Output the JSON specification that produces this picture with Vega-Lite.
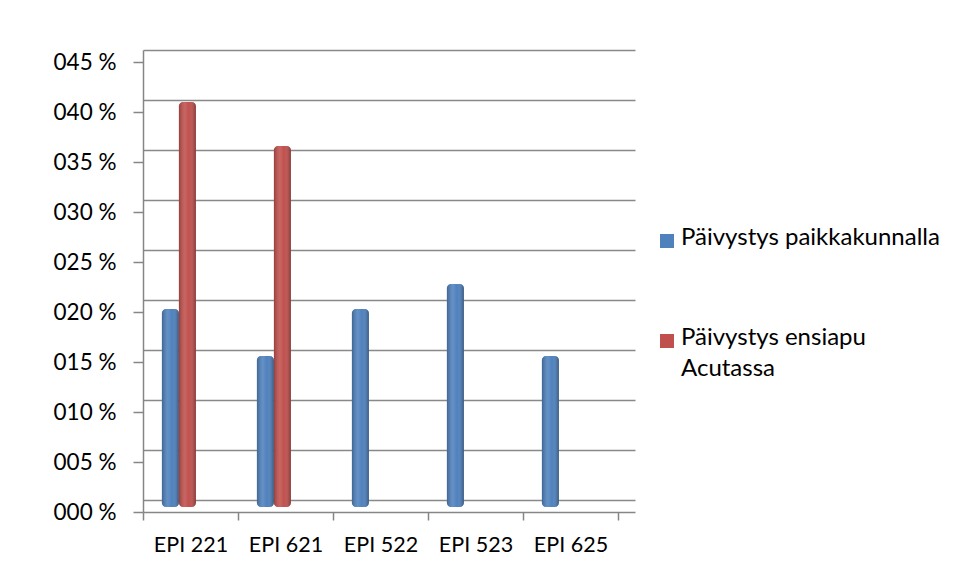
{
  "$schema": "https://vega.github.io/schema/vega-lite/v6.json",
  "autosize": "none",
  "width": 492,
  "height": 462,
  "padding": {"left": 143, "top": 50, "right": 322, "bottom": 66},
  "background": "white",
  "config": {
    "font": "Lato",
    "view": {"stroke": null},
    "axis": {"labelFont": "Lato", "labelColor": "#000000"},
    "legend": {"labelFont": "Lato", "labelFontSize": 24, "labelColor": "#000000"}
  },
  "data": {
    "values": [
      {"ryhma": "EPI 221", "sarja": "Päivystys paikkakunnalla", "osuus": 0.198},
      {"ryhma": "EPI 221", "sarja": "Päivystys ensiapu Acutassa", "osuus": 0.405},
      {"ryhma": "EPI 621", "sarja": "Päivystys paikkakunnalla", "osuus": 0.151},
      {"ryhma": "EPI 621", "sarja": "Päivystys ensiapu Acutassa", "osuus": 0.361},
      {"ryhma": "EPI 522", "sarja": "Päivystys paikkakunnalla", "osuus": 0.198},
      {"ryhma": "EPI 523", "sarja": "Päivystys paikkakunnalla", "osuus": 0.223},
      {"ryhma": "EPI 625", "sarja": "Päivystys paikkakunnalla", "osuus": 0.151}
    ]
  },
  "encoding": {
    "x": {
      "field": "ryhma",
      "type": "nominal",
      "sort": null,
      "title": null,
      "scale": {"paddingInner": 0, "paddingOuter": 0.0895, "align": 0},
      "axis": {
        "tickBand": "extent",
        "tickSize": 8,
        "tickColor": "#868686",
        "tickWidth": 1.5,
        "domainColor": "#868686",
        "domainWidth": 1.5,
        "labelAngle": 0,
        "labelFontSize": 21.5,
        "labelPadding": 14,
        "labelBaseline": "top",
        "grid": false
      }
    }
  },
  "layer": [
    {
      "mark": {"type": "point", "opacity": 0},
      "encoding": {
        "y": {
          "field": "osuus",
          "type": "quantitative",
          "scale": {"domain": [-0.012, 0.45], "nice": false, "zero": false},
          "axis": {
            "orient": "left",
            "values": [0, 0.05, 0.1, 0.15, 0.2, 0.25, 0.3, 0.35, 0.4, 0.45],
            "grid": true,
            "gridColor": "#898989",
            "gridWidth": 1.6,
            "gridOpacity": 1,
            "domain": false,
            "ticks": false,
            "labels": false,
            "title": null
          }
        }
      }
    },
    {
      "mark": {"type": "point", "opacity": 0},
      "encoding": {
        "y": {
          "field": "osuus",
          "type": "quantitative",
          "scale": {"domain": [0, 0.462], "nice": false, "zero": false},
          "axis": {
            "orient": "left",
            "values": [0, 0.05, 0.1, 0.15, 0.2, 0.25, 0.3, 0.35, 0.4, 0.45],
            "grid": false,
            "domainColor": "#868686",
            "domainWidth": 1.5,
            "tickColor": "#868686",
            "tickWidth": 1.5,
            "tickSize": 10,
            "labelPadding": 17,
            "labelFontSize": 22.5,
            "labelExpr": "format(datum.value * 100, '03.0f') + ' %'",
            "title": null
          }
        }
      }
    },
    {
      "encoding": {
        "xOffset": {
          "field": "sarja",
          "type": "nominal",
          "scale": {
            "domain": ["Päivystys paikkakunnalla", "Päivystys ensiapu Acutassa", "_tyhja1", "_tyhja2"],
            "paddingInner": 0,
            "paddingOuter": 0.794,
            "align": 0.7
          }
        },
        "y": {
          "field": "osuus",
          "type": "quantitative",
          "scale": {"domain": [-0.005, 0.457], "nice": false, "zero": false},
          "axis": null
        }
      },
      "layer": [
        {
          "mark": {"type": "bar", "cornerRadiusEnd": 4},
          "encoding": {
            "y2": {"datum": 0},
            "color": {
              "field": "sarja",
              "type": "nominal",
              "scale": {
                "domain": ["Päivystys paikkakunnalla", "Päivystys ensiapu Acutassa"],
                "range": ["#4f81bd", "#c0504d"]
              },
              "legend": {
                "title": null,
                "orient": "none",
                "legendX": 512,
                "legendY": 179,
                "symbolType": "square",
                "symbolSize": 196,
                "symbolStrokeWidth": 0,
                "symbolOpacity": 1,
                "labelOffset": 2,
                "labelLimit": 400,
                "rowPadding": 76,
                "labelBaseline": "top",
                "labelExpr": "datum.label == 'Päivystys ensiapu Acutassa' ? ['Päivystys ensiapu', 'Acutassa'] : datum.label",
                "encode": {"labels": {"update": {"lineHeight": {"value": 31}, "dy": {"value": -15}}}}
              }
            }
          }
        },
        {
          "mark": {
            "type": "bar",
            "cornerRadiusEnd": 4,
            "fill": {
              "gradient": "linear",
              "x1": 0, "y1": 0, "x2": 1, "y2": 0,
              "stops": [
                {"offset": 0, "color": "rgba(0,0,0,0.22)"},
                {"offset": 0.35, "color": "rgba(255,255,255,0.12)"},
                {"offset": 0.6, "color": "rgba(255,255,255,0.0)"},
                {"offset": 1, "color": "rgba(0,0,0,0.32)"}
              ]
            }
          },
          "encoding": {"y2": {"datum": 0}}
        }
      ]
    }
  ],
  "resolve": {"scale": {"y": "independent"}}
}
